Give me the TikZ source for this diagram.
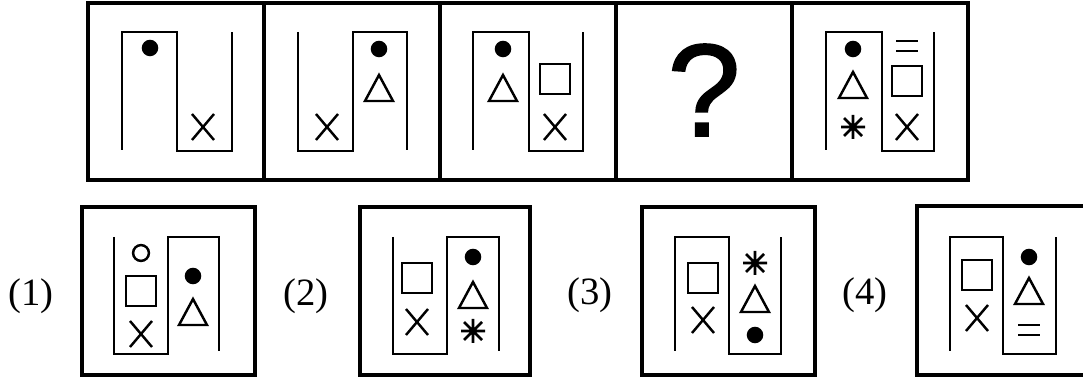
\documentclass[tikz,border=0pt]{standalone}
\usepackage{fontspec}
\setmainfont{Liberation Serif}
\newfontfamily\qfont[FakeBold=1.2]{Liberation Sans}
\usepackage{tikz}

\tikzset{
  frame/.style={line width=1.8pt},
  optlabel/.style={font=\fontsize{22}{26}\selectfont, inner sep=0pt},
  qmark/.style={font=\qfont\fontsize{75}{80}\selectfont, inner sep=0pt},
  pics/sdot/.style={code={\fill (0,0) circle (4.7pt);}},
  pics/sring/.style={code={\draw (0,0) circle (4.5pt);}},
  pics/stri/.style={code={\draw (-14,13) -- (0,-13) -- (14,13) -- cycle;}},
  pics/ssq/.style={code={\draw (-15,-15) rectangle (15,15);}},
  pics/scross/.style={code={\draw (-11,-13) -- (11,13) (-11,13) -- (11,-13);}},
  pics/sstar/.style={code={\draw[line width=1.6pt] (-12,0) -- (12,0) (0,-12) -- (0,12) (-9,-9) -- (9,9) (-9,9) -- (9,-9);}},
  pics/seq/.style={code={\draw[line width=1.6pt] (-11,-5) -- (11,-5) (-11,5) -- (11,5);}}
}

\begin{document}
\begin{tikzpicture}[x=0.02cm, y=-0.02cm, line width=1.4pt]
    \clip (0,0) rectangle (1083,378);
    % Top row frame
    \draw[frame] (88,3) rectangle (968,180);
    \draw[frame] (264,3) -- (264,180) (440,3) -- (440,180) (616,3) -- (616,180) (792,3) -- (792,180);
    % Cell 1
    \draw (122,150) -- (122,32) -- (177,32) -- (177,151) -- (232,151) -- (232,32);
    \pic at (150,48) {sdot};
    \pic at (203,127) {scross};
    % Cell 2
    \draw (298,32) -- (298,151) -- (353,151) -- (353,32) -- (407,32) -- (407,150);
    \pic at (327,127) {scross};
    \pic at (379,49) {sdot};
    \pic at (379,88) {stri};
    % Cell 3
    \draw (473,150) -- (473,32) -- (529,32) -- (529,151) -- (583,151) -- (583,32);
    \pic at (503,49) {sdot};
    \pic at (503,88) {stri};
    \pic at (555,79) {ssq};
    \pic at (555,127) {scross};
    % Cell 4
    \node[qmark] (q) at (704,90) {?};
    % Cell 5
    \draw (826,150) -- (826,32) -- (882,32) -- (882,151) -- (934,151) -- (934,32);
    \pic at (853,49) {sdot};
    \pic at (853,85) {stri};
    \pic at (853,127) {sstar};
    \pic at (907,46) {seq};
    \pic at (907,81) {ssq};
    \pic at (907,127) {scross};
    % Option 1
    \node[optlabel] (lab1) at (31,296) {(1)};
    \draw[frame] (82,207) rectangle (255,375);
    \draw (114,237) -- (114,354) -- (168,354) -- (168,237) -- (219,237) -- (219,351);
    \pic at (141,253) {sring};
    \pic at (141,291) {ssq};
    \pic at (141,334) {scross};
    \pic at (193,276) {sdot};
    \pic at (193,312) {stri};
    % Option 2
    \node[optlabel] (lab2) at (306,296) {(2)};
    \draw[frame] (360,207) rectangle (530,375);
    \draw (393,237) -- (393,354) -- (447,354) -- (447,237) -- (499,237) -- (499,351);
    \pic at (417,278) {ssq};
    \pic at (417,322) {scross};
    \pic at (473,257) {sdot};
    \pic at (473,295) {stri};
    \pic at (473,331) {sstar};
    % Option 3
    \node[optlabel] (lab3) at (590,295) {(3)};
    \draw[frame] (642,207) rectangle (815,375);
    \draw (675,351) -- (675,237) -- (729,237) -- (729,354) -- (781,354) -- (781,237);
    \pic at (703,278) {ssq};
    \pic at (703,320) {scross};
    \pic at (755,263) {sstar};
    \pic at (755,299) {stri};
    \pic at (755,335) {sdot};
    % Option 4
    \node[optlabel] (lab4) at (865,295) {(4)};
    \draw[frame] (917,206) rectangle (1090,375);
    \draw (950,351) -- (950,237) -- (1003,237) -- (1003,354) -- (1056,354) -- (1056,237);
    \pic at (977,275) {ssq};
    \pic at (977,318) {scross};
    \pic at (1029,257) {sdot};
    \pic at (1029,291) {stri};
    \pic at (1029,330) {seq};
\end{tikzpicture}
\end{document}
